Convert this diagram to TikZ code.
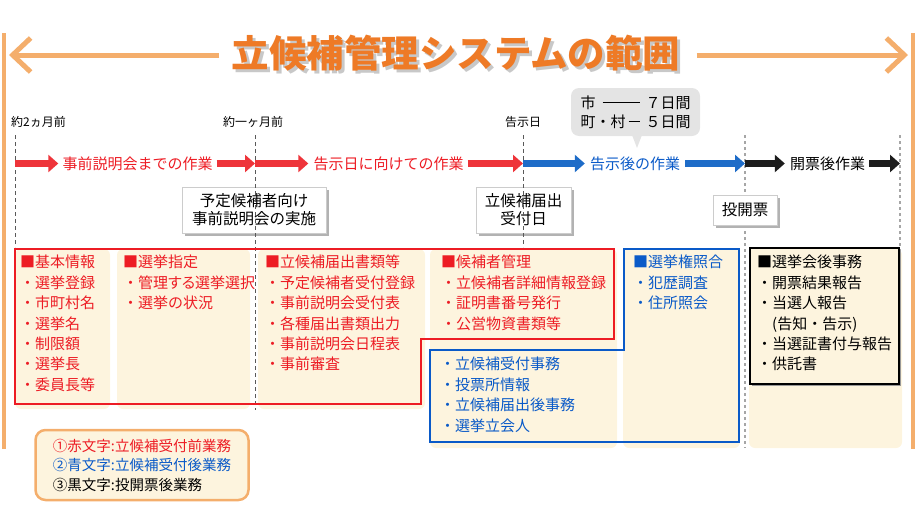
\documentclass[tikz,border=0pt]{standalone}
\usepackage{fontspec}
\setmainfont{Noto Sans CJK JP}
\usetikzlibrary{arrows.meta,shadows}

\definecolor{cream}{RGB}{253,244,222}
\definecolor{orgline}{RGB}{244,174,108}
\definecolor{orgtitle}{RGB}{238,122,38}
\definecolor{myred}{RGB}{237,28,36}
\definecolor{myblue}{RGB}{10,90,200}
\definecolor{arrred}{RGB}{238,52,58}
\definecolor{arrblue}{RGB}{30,108,200}
\definecolor{arrblack}{RGB}{28,28,28}
\definecolor{callgray}{RGB}{228,228,228}
\definecolor{shadowgray}{RGB}{200,200,200}

\newcommand\fs[2]{\fontsize{#1}{#2}\selectfont}
\newcommand\mydashfill{\leaders\hrule height 6.2pt depth -5.2pt\hfill}
\newcommand\shadowedtext[1]{\makebox[0pt][l]{\hspace{3pt}\raisebox{-3pt}{\textcolor{shadowgray}{#1}}}\textcolor{orgtitle}{#1}}

\begin{document}
\begin{tikzpicture}[x=1pt,y=-1pt,
  every node/.style={inner sep=0pt},
  phasearrow/.style={line width=6.5pt,-{Triangle[length=10pt,width=17pt]}},
  phaselabel/.style={font=\fs{15}{18}},
  tickline/.style={draw=black!65,line width=1pt,dash pattern=on 4pt off 3pt},
  tickline2/.style={draw=black!35,line width=2.2pt,dash pattern=on 3pt off 3pt},
  timelabel/.style={font=\fs{12}{14},anchor=west},
  eventbox/.style={draw=black!20,line width=1pt,fill=white,font=\fs{15.5}{18},align=center,
    drop shadow={shadow xshift=3pt,shadow yshift=-3pt,fill=black!30,opacity=1}},
  colbg/.style={fill=cream,rounded corners=6pt},
  coltext/.style={anchor=north west,align=left,font=\fs{15}{20.4}},
  titlearrow/.style={draw=orgline,line width=5pt,-{Straight Barb[length=18pt,width=34pt]}},
]
\useasboundingbox (0,0) rectangle (920,530);

% frame lines
\draw[orgline,line width=4pt] (4,33) -- (4,449);
\draw[orgline,line width=4pt] (913,33) -- (913,449);

% title
\node[font=\fs{37.5}{40}\bfseries] (title) at (456,55) {\shadowedtext{立候補管理システムの範囲}};
\coordinate (tl) at (9,55);
\coordinate (tr) at (908,55);
\draw[titlearrow] ([xshift=-12pt]title.west) -- (tl);
\draw[titlearrow] ([xshift=16pt]title.east) -- (tr);

% time labels
\node[timelabel] (m2) at (11,122) {約2ヵ月前};
\node[timelabel] (m1) at (223,122) {約一ヶ月前};
\node[timelabel] (kd) at (505,122) {告示日};

% callout
\node[fill=callgray,rounded corners=8pt,minimum width=129,minimum height=48,font=\fs{15}{19},align=left] (call) at (635.5,112)
  {\hbox to 110pt{市\hspace{7pt}\mydashfill\hspace{6pt}７日間}\\\hbox to 110pt{町・村\hspace{3pt}\mydashfill\hspace{6pt}５日間}};
\fill[callgray] (632,135) -- (642,135) -- (637,148) -- cycle;

% column backgrounds
\fill[colbg] (15,249) rectangle (110,409);
\fill[colbg] (117,249) rectangle (250,409);
\fill[colbg] (258,249) rectangle (425,409);
\fill[colbg] (430,249) rectangle (617,448);
\fill[colbg] (623,249) rectangle (740,448);
\fill[colbg] (749,249) rectangle (902,448);

% event boxes 1,2
\node[eventbox,minimum width=144,minimum height=46] (ev1) at (254,210) {予定候補者向け\\事前説明会の実施};
\node[eventbox,minimum width=95,minimum height=46] (ev2) at (523.5,210) {立候補届出\\受付日};

% timeline positions
\coordinate (t0) at (15,163.5);
\coordinate (t1) at (255,163.5);
\coordinate (t2) at (523,163.5);
\coordinate (t3) at (745,163.5);
\coordinate (t4) at (900,163.5);

% dashed lines
\draw[tickline] (15,135) -- (15,247);
\draw[tickline] (255,135) -- (255,410);
\draw[tickline] (523,135) -- (523,247);
\draw[tickline2] (745,135) -- (745,448);
\draw[tickline2] (900,135) -- (900,250);

\node[eventbox,minimum width=64,minimum height=30] (ev3) at (745,210) {投開票};

% phase arrows
\node[phaselabel,text=myred] (p1) at (137.5,163.5) {事前説明会までの作業};
\node[phaselabel,text=myred] (p2) at (388.5,163.5) {告示日に向けての作業};
\node[phaselabel,text=myblue] (p3) at (635,163.5) {告示後の作業};
\node[phaselabel] (p4) at (827.5,163.5) {開票後作業};
\draw[phasearrow,arrred] (t0) -- ([xshift=-4pt]p1.west);
\draw[phasearrow,arrred] ([xshift=4pt]p1.east) -- (t1);
\draw[phasearrow,arrred] (t1) -- ([xshift=-5pt]p2.west);
\draw[phasearrow,arrred] ([xshift=4pt]p2.east) -- (t2);
\draw[phasearrow,arrblue] (t2) -- ([xshift=-5pt]p3.west);
\draw[phasearrow,arrblue] ([xshift=5pt]p3.east) -- (t3);
\draw[phasearrow,arrblack] (t3) -- ([xshift=-5pt]p4.west);
\draw[phasearrow,arrblack] ([xshift=4pt]p4.east) -- (t4);

% group borders
\draw[myred,line width=2.5pt] (15,249) -- (614,249) -- (614,339) -- (421,339) -- (421,404) -- (15,404) -- cycle;
\draw[myblue,line width=2.5pt] (430,350) -- (624,350) -- (624,249) -- (739,249) -- (739,442) -- (430,442) -- cycle;
\fill[black!40] (752,250) rectangle (901,386);
\draw[black,line width=1.8pt,fill=cream] (750,248) rectangle (899,384);

% column texts
\node[coltext,text=myred] (c1) at (20,255) {■基本情報\\・選挙登録\\・市町村名\\・選挙名\\・制限額\\・選挙長\\・委員長等};
\node[coltext,text=myred] (c2) at (123,255) {■選挙指定\\・{\addfontfeature{RawFeature=+palt}管理する選挙選択}\\・選挙の状況};
\node[coltext,text=myred] (c3) at (265,255) {■立候補届出書類等\\・予定候補者受付登録\\・事前説明会受付表\\・各種届出書類出力\\・事前説明会日程表\\・事前審査};
\node[coltext,text=myred] (c4) at (441,255) {■候補者管理\\・立候補者詳細情報登録\\・証明書番号発行\\・公営物資書類等};
\node[coltext,text=myblue] (c4b) at (440,357) {・立候補受付事務\\・投票所情報\\・立候補届出後事務\\・選挙立会人};
\node[coltext,text=myblue] (c5) at (633,255) {■選挙権照合\\・犯歴調査\\・住所照会};
\node[coltext] (c6) at (757,255) {■選挙会後事務\\・開票結果報告\\・当選人報告\\　(告知・告示)\\・当選証書付与報告\\・供託書};

% legend
\node[draw=orgline,line width=2.5pt,fill=cream,rounded corners=10pt,minimum width=213,minimum height=70,align=left,font=\fs{14.5}{19.5}] (leg) at (142,465)
  {\textcolor{myred}{①赤文字:立候補受付前業務}\\\textcolor{myblue}{②青文字:立候補受付後業務}\\③黒文字:投開票後業務};
\end{tikzpicture}
\end{document}
